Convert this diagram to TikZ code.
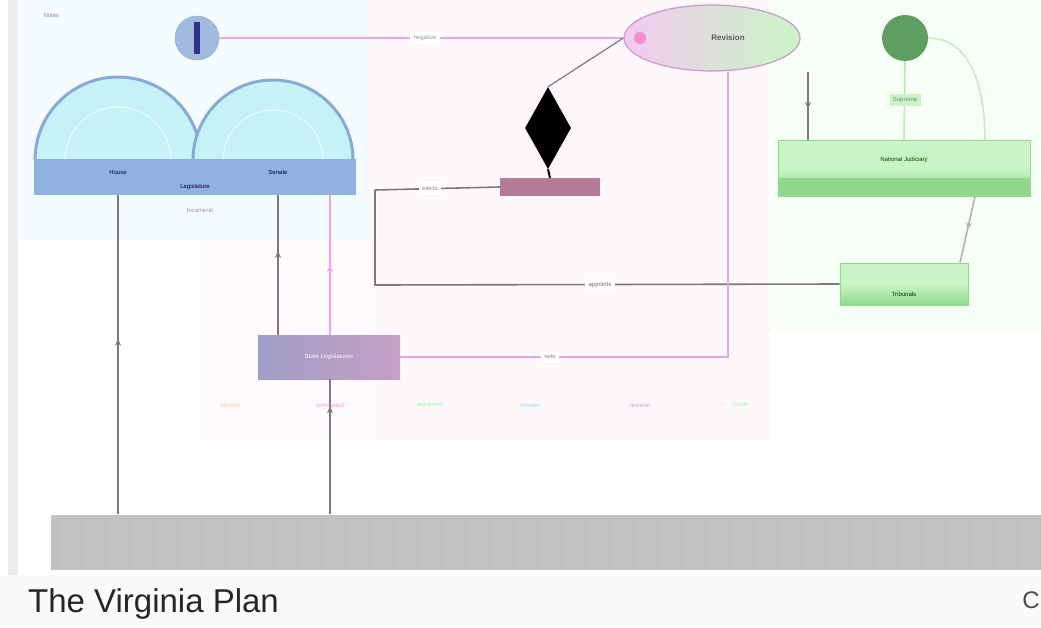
\documentclass[tikz,border=0pt]{standalone}
\usepackage{fontspec}
\setmainfont{Liberation Sans}
\usetikzlibrary{shapes.geometric,arrows.meta,decorations.markings}
\definecolor{legband}{HTML}{8FB2E0}
\definecolor{legfill}{HTML}{C6F2F7}
\definecolor{legedge}{HTML}{8AAAD6}
\definecolor{exbar}{HTML}{B57A96}
\definecolor{jfill}{HTML}{C9F5C6}
\definecolor{jband}{HTML}{8FD88C}
\definecolor{jdark}{HTML}{5E9E60}
\definecolor{pinkline}{HTML}{E9A6E6}
\definecolor{grline}{HTML}{7A7A7A}
\definecolor{peoplebar}{HTML}{C2C2C2}
\tikzset{
  lbl/.style={font=\fontsize{6}{7}\selectfont, text=black!70},
  conn/.style={draw=grline, line width=1.6pt},
  pconn/.style={draw=pinkline, line width=1.6pt},
  gconn/.style={draw=jband!80!black, line width=1.6pt},
  midarr/.style={postaction={decorate}, decoration={markings, mark=at position #1 with {\arrow{Stealth[length=7pt,width=6pt]}}}},
  boxj/.style={draw=jband, line width=1pt, top color=jfill, bottom color=jband, middle color=jfill, minimum height=0pt, inner sep=0pt},
}
\begin{document}
\begin{tikzpicture}[x=1pt,y=-1pt]
\useasboundingbox (0,0) rectangle (1041,627);
% background regions
\fill[white] (0,0) rectangle (1041,627);
\fill[cyan!4] (20,0) rectangle (370,240);
\fill[magenta!3] (370,0) rectangle (770,440);
\fill[green!4] (770,0) rectangle (1041,330);
\fill[magenta!2] (200,240) rectangle (370,440);
\fill[gray!15] (8,0) rectangle (18,575);
% caption strip
\fill[gray!4] (0,575) rectangle (1041,627);
\node[anchor=west, font=\fontsize{33}{35}\selectfont, text=black!85, inner sep=0pt] (cap) at (28,604) {The Virginia Plan};
\node[anchor=east, font=\fontsize{24}{26}\selectfont, text=black!70, inner sep=0pt] (capr) at (1040,600) {C};
\node[anchor=west, lbl, text=black!45] (notes) at (40,15) {Notes};

% people bar
\node[fill=peoplebar, minimum width=995pt, minimum height=55pt, inner sep=0pt] (people) at (548,542) {};
\foreach \i in {0,...,41} {\fill[gray!55, opacity=0.35] (56+\i*24,518) rectangle (60+\i*24,567);}

% legislature semicircles
\fill[legfill] (35,160) arc[start angle=180,end angle=0,radius=83pt] -- cycle;
\draw[legedge, line width=3pt] (35,160) arc[start angle=180,end angle=0,radius=83pt];
\fill[legfill] (193,160) arc[start angle=180,end angle=0,radius=80pt] -- cycle;
\draw[legedge, line width=3pt] (193,160) arc[start angle=180,end angle=0,radius=80pt];
\draw[white, line width=1pt, opacity=0.7] (65,160) arc[start angle=180,end angle=0,radius=53pt];
\draw[white, line width=1pt, opacity=0.7] (223,160) arc[start angle=180,end angle=0,radius=50pt];
\node[fill=legband, minimum width=322pt, minimum height=36pt, inner sep=0pt] (leg) at (195,177) {};
\node[lbl, text=blue!30!black] (house) at (118,172) {House};
\node[lbl, text=blue!30!black] (senate) at (278,172) {Senate};
\node[lbl, text=blue!30!black] (legis) at (195,187) {Legislature};
\node[lbl, text=black!40] (bicam) at (200,210) {bicameral};
\coordinate (houseB) at (118,195);
\coordinate (senB) at (278,195);
\coordinate (senP) at (330,195);
\coordinate (legR) at (375,190);

% veto circle
\node[circle, fill=legedge!80, draw=legedge, minimum size=44pt, inner sep=0pt] (veto) at (197,38) {};
\fill[blue!40!black!80] (194,22) rectangle (200,54);

% council ellipse
\node[ellipse, draw=pinkline!70!gray, line width=1.2pt, left color=pinkline!60, right color=jfill, minimum width=176pt, minimum height=66pt, inner sep=0pt] (council) at (712,38) {};
\fill[magenta!45] (640,38) circle (6pt);
\node[lbl, text=black!65, font=\fontsize{8}{9}\selectfont\bfseries] at (728,38) {Revision};

% judiciary
\node[circle, fill=jdark, minimum size=46pt, inner sep=0pt] (supreme) at (905,38) {};
\node[boxj, minimum width=252pt, minimum height=56pt] (jud) at (904,168) {};
\fill[jband] (778,178) rectangle (1030,196);
\node[lbl, text=green!25!black] at (904,160) {National Judiciary};
\node[boxj, minimum width=128pt, minimum height=42pt] (inferior) at (904,284) {};
\node[lbl, text=green!20!black] at (904,294) {Tribunals};

% executive
\node[diamond, fill=black, minimum width=46pt, minimum height=82pt, inner sep=0pt, aspect=0.55] (veto2) at (548,128) {};
\node[fill=exbar, minimum width=100pt, minimum height=18pt, inner sep=0pt] (exec) at (550,187) {};
\draw[black, line width=2pt] (veto2.south) -- (exec.north);

% state legislatures
\node[left color=blue!25!gray!60, right color=magenta!25!gray!60, minimum width=142pt, minimum height=44pt, inner sep=0pt] (states) at (329,357) {};
\node[lbl, text=white] at (329,357) {State Legislatures};

% connectors
\draw[conn, midarr=0.55] (people.north -| houseB) -- (houseB);
\draw[conn, midarr=0.6] (states.north -| senB) -- (senB);
\draw[pconn, midarr=0.5] (states.north -| senP) -- (senP);
\draw[conn, midarr=0.8] (people.north -| senP) -- (states.south -| senP);
\draw[conn] (legR) -- (375,285) -- (inferior.west);
\node[lbl, fill=white, text=black!60] at (600,285) {appoints};
\draw[conn] (legR) -- (exec.west);
\node[lbl, fill=white, text=black!50] at (430,188) {elects};
\draw[pconn] (states.east) -- (728,357) -- (council.south -| 728,0);
\node[lbl, fill=white, text=black!50] at (550,357) {veto};
\draw[pconn] (veto.east) -- (council.west);
\node[lbl, fill=white, text=black!40] at (425,38) {negative};
\draw[conn, line width=1.2pt] (veto2.north) -- (council.west);
\draw[conn, midarr=0.55] (council.south -| 808,0) -- (jud.north -| 808,0);
\draw[gconn, draw=jband!60] (supreme.south) -- (jud.north);
\node[lbl, fill=jfill, text=black!50] at (905,100) {Supreme};
\draw[gconn, draw=jband!50] (supreme.east) to[out=0,in=90] (985,140);
\draw[conn, draw=gray!60, midarr=0.5] (jud.south -| 975,0) -- (inferior.north -| 960,0);

% faint legend text
\foreach \x/\c/\t in {230/orange/elected,330/magenta/nominated,430/green/appointed,530/cyan/chosen,640/violet/revision,740/green/courts} {
  \node[lbl, text=\c!40] at (\x,405) {\t};
}
\end{tikzpicture}
\end{document}
